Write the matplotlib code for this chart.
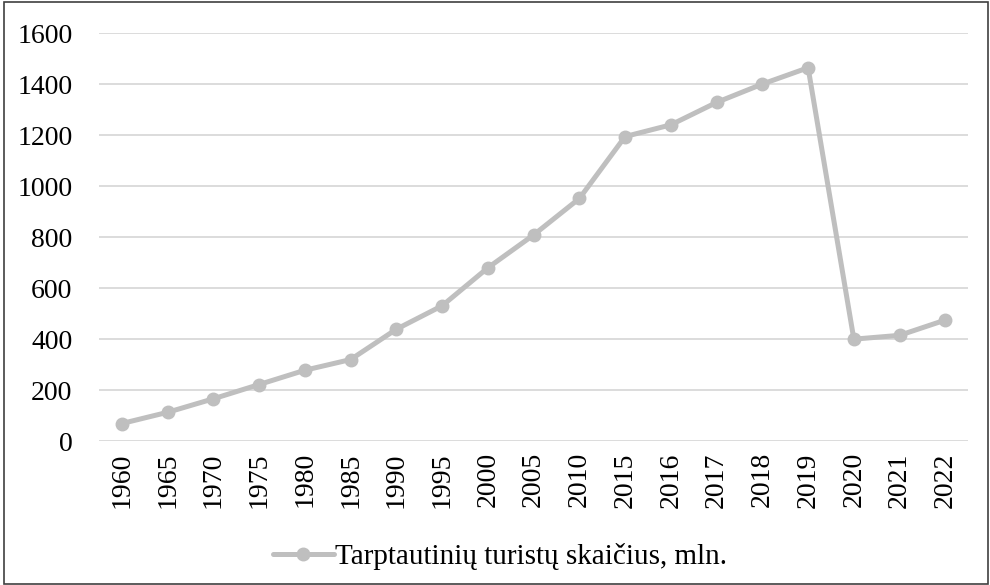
import matplotlib
matplotlib.use("Agg")
import matplotlib.pyplot as plt
from matplotlib.patches import Rectangle

plt.rcParams['font.family'] = ['Liberation Serif', 'DejaVu Serif']

years = ["1960", "1965", "1970", "1975", "1980", "1985", "1990", "1995", "2000",
         "2005", "2010", "2015", "2016", "2017", "2018", "2019", "2020", "2021", "2022"]
tourists = [69, 113, 166, 222, 278, 320, 439, 531, 680, 809, 952, 1195, 1241,
            1329, 1401, 1465, 400, 415, 475]
label = "Tarptautinių turistų skaičius, mln."

fig = plt.figure(figsize=(9.9, 5.85), dpi=100)
ax = fig.add_axes([0.1, 0.246, 0.878, 0.697])
x = list(range(len(years)))
line, = ax.plot(x, tourists, color='#BFBFBF', linewidth=3.6, marker='o', markersize=9,
                label=label, solid_capstyle='round')
ax.set_xlim(-0.5, len(years) - 0.5)
ax.set_ylim(0, 1600)
ax.set_yticks(range(0, 1601, 200))
ax.set_xticks(x)
ax.set_xticklabels(years, rotation=90)
ax.grid(axis='y', color='#D9D9D9', linewidth=1.3)
ax.set_axisbelow(True)
for s in ax.spines.values():
    s.set_visible(False)
ax.tick_params(axis='both', length=0, labelsize=20, colors='black')
ax.tick_params(axis='y', pad=19)
ax.tick_params(axis='x', pad=8)
fig.legend(handles=[line], loc='center', bbox_to_anchor=(0.505, 0.048), frameon=False,
           fontsize=21, handlelength=2.1, handletextpad=0.05)
fig.patches.append(Rectangle((0.004, 0.002), 0.994, 0.995, transform=fig.transFigure,
                             fill=False, edgecolor='#404040', linewidth=1.2))
fig.savefig("out.png", dpi=100)
